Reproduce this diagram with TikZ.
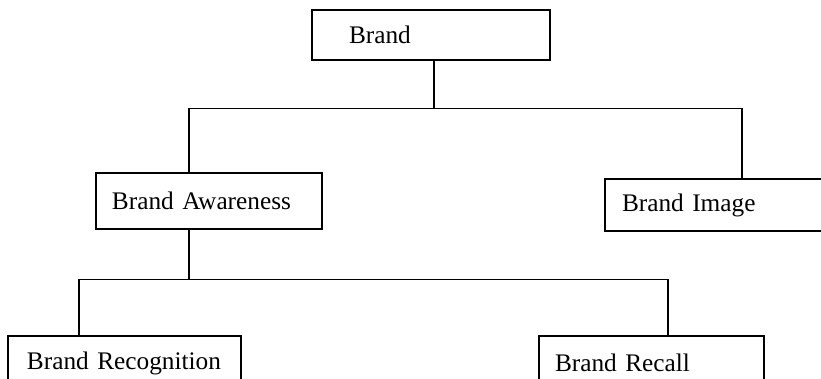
\documentclass[tikz,border=0pt]{standalone}
\usepackage{fontspec}
\setmainfont{Liberation Serif}
\usepackage{tikz}
\tikzstyle{box} = [draw, line width=0.8pt, align=left, inner ysep=0pt, font=\fontsize{14.4}{17}\selectfont]
\tikzstyle{link} = [line width=0.8pt]

\begin{document}
\begin{tikzpicture}[node distance=3.3cm]
\clip (0,0) rectangle (16.42,-7.56);
\node (brand) [box, text width=3.28cm, inner xsep=0.74cm, minimum height=1cm] at (8.62,-0.7) {Brand};
\node (aware) [box, below of=brand, xshift=-4.44cm, yshift=-0.02cm, text width=3.88cm, inner xsep=0.32cm, minimum height=1.12cm] {Brand Awareness};
\node (image) [box, below of=brand, xshift=5.73cm, yshift=-0.10cm, text width=3.82cm, inner xsep=0.34cm, minimum height=1.04cm] {Brand Image};
\node (recog) [box, below of=aware, xshift=-1.69cm, yshift=0.06cm, text width=3.9cm, inner xsep=0.38cm, minimum height=1.08cm] {Brand Recognition};
\node (recall) [box, below of=aware, xshift=8.85cm, yshift=0.06cm, text width=3.86cm, inner xsep=0.32cm, minimum height=1.08cm] {Brand Recall};

% first level
\draw [link] ([xshift=0.06cm]brand.south) -- ++(0,-0.96) coordinate (split1);
\draw [link] ([xshift=-0.4cm]aware.north) |- (split1) -| ([xshift=0.49cm]image.north);
% second level
\draw [link] ([xshift=-0.4cm]aware.south) -- ++(0,-1.0) coordinate (split2);
\draw [link] ([xshift=-0.91cm]recog.north) |- (split2) -| ([xshift=0.33cm]recall.north);
\end{tikzpicture}
\end{document}
